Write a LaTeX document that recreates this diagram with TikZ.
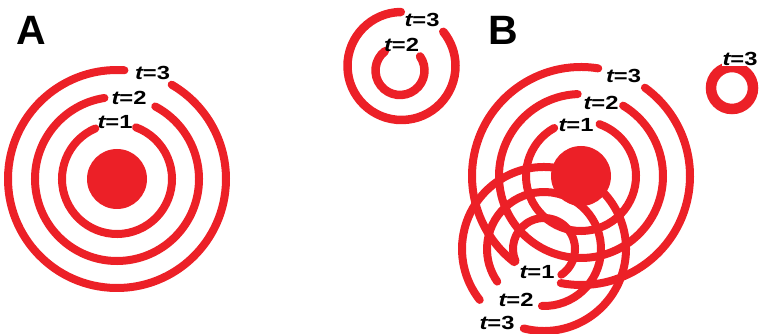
\documentclass[tikz,border=0pt]{standalone}
\usepackage{fontspec}
\setmainfont{Liberation Sans}
\newfontfamily\lblfont[FakeStretch=1.25]{Liberation Sans}
\definecolor{wave}{RGB}{236,32,39}
% arc of a wave front: centre, start angle, end angle, radius
\newcommand\wavearc[5][]{\draw[ring,#1] (#2) ++(#3:#5) arc[start angle=#3, end angle=#4, radius=#5];}
\begin{document}
\begin{tikzpicture}[x=1pt,y=1pt,
  ring/.style={draw=wave, line width=8pt, line cap=round},
  source/.style={circle, fill=wave, minimum size=60pt, inner sep=0pt},
  lbl/.style={font=\lblfont\bfseries\fontsize{19}{19}\selectfont, inner sep=0pt, text=black},
  panel/.style={font=\bfseries\fontsize{41}{41}\selectfont, inner sep=0pt}]
\useasboundingbox (0,0) rectangle (763,334);

% centres
\coordinate (cA) at (117,155);
\coordinate (cB) at (581,158);
\coordinate (cC) at (544,85);
\coordinate (cM3) at (401.5,268);
\coordinate (cM2) at (400,263.5);
\coordinate (cR) at (732,246);

% panel A
\wavearc{cA}{113.2}{429.8}{55}
\wavearc{cA}{98.8}{422.2}{82}
\wavearc{cA}{86.1}{419.9}{109}
\node[source] (dotA) at (cA) {};

% late fronts between the panels
\wavearc[line width=8.5pt]{cM3}{90.7}{399.3}{54}
\wavearc[line width=8.5pt]{cM2}{128}{395}{24.5}
\draw[ring, line width=10.5pt] (cR) circle[radius=21];

% panel B, main source
\wavearc{cB}{119.2}{430.4}{55}
\wavearc{cB}{92.3}{419.1}{82}
\wavearc{cB}{80.9}{232.2}{109}
\wavearc{cB}{259.3}{414.1}{109}
% panel B, second source
\wavearc{cC}{304}{563.2}{31}
\wavearc{cC}{267.9}{574.9}{57}
\wavearc{cC}{255.7}{578.4}{82}
\node[source] (dotB) at (cB) {};

% labels
\node[panel] (pA) at (31,304) {A};
\node[panel] (pB) at (503.5,304) {B};
\node[lbl] (tA1) at (115,211.5) {{\itshape t}=1};
\node[lbl] (tA2) at (129,236.5) {{\itshape t}=2};
\node[lbl] (tA3) at (152.5,261.5) {{\itshape t}=3};
\node[lbl] (tM2) at (401.5,289.5) {{\itshape t}=2};
\node[lbl] (tM3) at (422,314.5) {{\itshape t}=3};
\node[lbl, fill=white, inner sep=1pt] (tR) at (740,275.5) {{\itshape t}=3};
\node[lbl] (tB1) at (576,209) {{\itshape t}=1};
\node[lbl] (tB2) at (601,231.5) {{\itshape t}=2};
\node[lbl] (tB3) at (623.5,258.5) {{\itshape t}=3};
\node[lbl] (tC1) at (537,62) {{\itshape t}=1};
\node[lbl] (tC2) at (516,34) {{\itshape t}=2};
\node[lbl] (tC3) at (497,11) {{\itshape t}=3};
\end{tikzpicture}
\end{document}
